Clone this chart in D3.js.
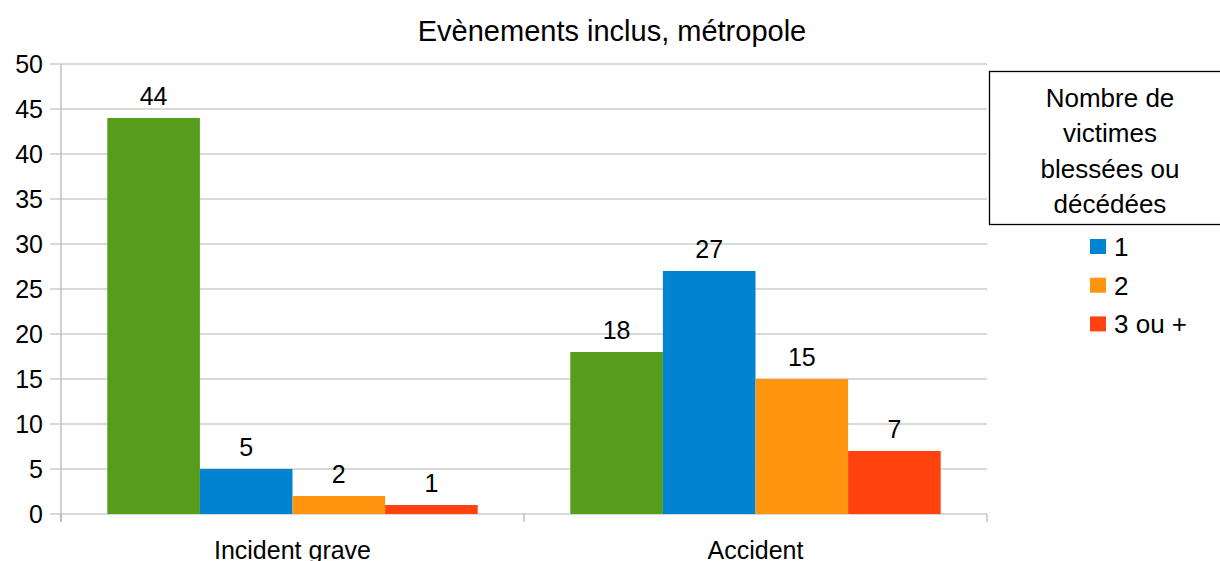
<!DOCTYPE html>
<html><head><meta charset="utf-8">
<script src="https://cdn.jsdelivr.net/npm/d3@7"></script>
<style>body{margin:0;background:#fff}svg{display:block;font-family:"Liberation Sans",Arial,sans-serif}</style>
</head><body>
<svg id="c" width="1220" height="561"></svg>
<script>
const categories = ["Incident grave", "Accident"];
const seriesNames = ["0", "1", "2", "3 ou +"];
const seriesColors = ["#579d1c", "#0084d1", "#ff950e", "#ff420e"];
const values = [
  [44, 5, 2, 1],
  [18, 27, 15, 7]
];
const yTicks = [0, 5, 10, 15, 20, 25, 30, 35, 40, 45, 50];
const legendSeries = ["1", "2", "3 ou +"];
const legendTitle = ["Nombre de", "victimes", "blessées ou", "décédées"];
const title = "Evènements inclus, métropole";

(function () {
const svg = d3.select("#c");
const mLeft = 61, mRight = 987, mTop = 64, mBottom = 514;
const grid = "#b3b3b3";
const fs = 25;

const x = d3.scaleBand().domain(categories).range([mLeft, mRight]).paddingInner(0).paddingOuter(0);
const y = d3.scaleLinear().domain([0, 50]).range([mBottom, mTop]);
const xs = d3.scaleBand().domain(seriesNames).range([0, x.bandwidth()]).paddingOuter(0.5).paddingInner(0);

svg.append("g").selectAll("line").data(yTicks).join("line")
  .attr("x1", mLeft - 11).attr("x2", mRight)
  .attr("y1", d => y(d)).attr("y2", d => y(d))
  .attr("stroke", grid).attr("stroke-width", 1.2);

svg.append("line").attr("x1", mLeft).attr("x2", mLeft).attr("y1", mTop).attr("y2", mBottom + 8)
  .attr("stroke", grid).attr("stroke-width", 1.2);
const xb = [mLeft, ...categories.map(c => x(c) + x.bandwidth())];
svg.append("g").selectAll("line").data(xb).join("line")
  .attr("x1", d => d).attr("x2", d => d).attr("y1", mBottom).attr("y2", mBottom + 8)
  .attr("stroke", grid).attr("stroke-width", 1.2);

svg.append("g").selectAll("text").data(yTicks).join("text")
  .attr("x", mLeft - 18).attr("y", d => y(d)).attr("dy", "0.36em")
  .attr("text-anchor", "end").attr("font-size", fs).attr("fill", "#000")
  .text(d => d);

const groups = svg.append("g").selectAll("g").data(categories).join("g")
  .attr("transform", c => `translate(${x(c)},0)`);
groups.selectAll("rect").data((c, i) => values[i].map((v, j) => ({v, s: seriesNames[j], j})))
  .join("rect")
  .attr("x", d => xs(d.s)).attr("width", xs.bandwidth())
  .attr("y", d => y(d.v)).attr("height", d => y(0) - y(d.v))
  .attr("fill", d => seriesColors[d.j]);
groups.selectAll("text").data((c, i) => values[i].map((v, j) => ({v, s: seriesNames[j], j})))
  .join("text")
  .attr("x", d => xs(d.s) + xs.bandwidth() / 2).attr("y", d => y(d.v) - 13)
  .attr("text-anchor", "middle").attr("font-size", fs).attr("fill", "#000")
  .text(d => d.v);

svg.append("g").selectAll("text").data(categories).join("text")
  .attr("x", c => x(c) + x.bandwidth() / 2).attr("y", 559)
  .attr("text-anchor", "middle").attr("font-size", fs).attr("fill", "#000")
  .text(c => c);

svg.append("text").attr("x", 612).attr("y", 41).attr("text-anchor", "middle")
  .attr("font-size", 29).attr("fill", "#000").text(title);

svg.append("rect").attr("x", 989.5).attr("y", 71.5).attr("width", 240).attr("height", 153)
  .attr("fill", "none").attr("stroke", "#000").attr("stroke-width", 1.3);
svg.append("g").selectAll("text").data(legendTitle).join("text")
  .attr("x", 1110).attr("y", (d, i) => 107 + i * 35.3)
  .attr("text-anchor", "middle").attr("font-size", 26).attr("fill", "#000")
  .text(d => d);
const lg = svg.append("g").selectAll("g").data(legendSeries).join("g")
  .attr("transform", (d, i) => `translate(1090,${239 + i * 38.7})`);
lg.append("rect").attr("width", 16).attr("height", 15)
  .attr("fill", d => seriesColors[seriesNames.indexOf(d)]);
lg.append("text").attr("x", 24).attr("y", 7.5).attr("dy", "0.36em")
  .attr("font-size", 26).attr("fill", "#000").text(d => d);
})();
</script>
</body></html>
